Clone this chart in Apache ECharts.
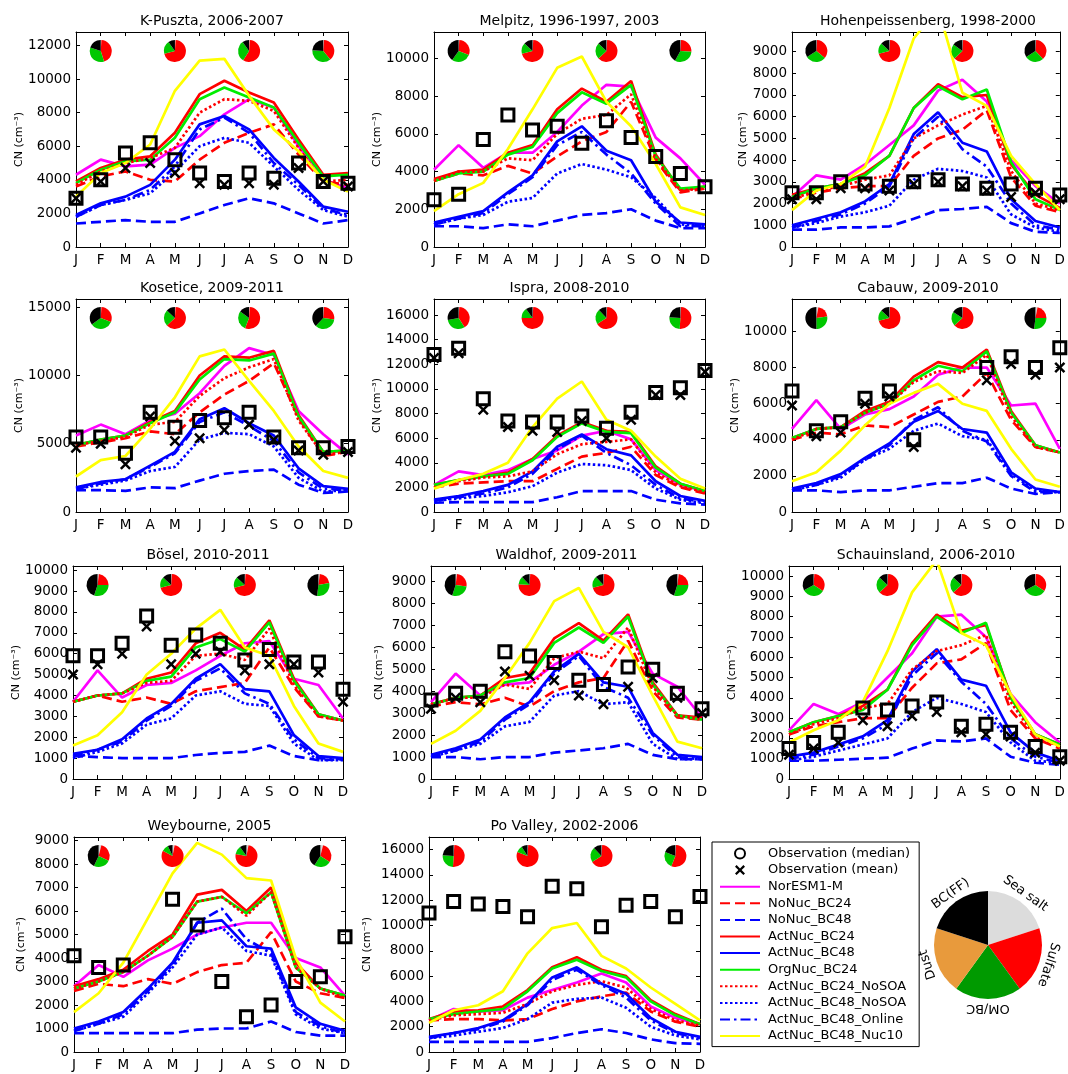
<!DOCTYPE html>
<html>
<head>
<meta charset="utf-8">
<script src="https://cdn.jsdelivr.net/npm/echarts@6/dist/echarts.min.js"></script>
<style>
html, body { margin: 0; padding: 0; background: #fff; }
#chart { width: 1068px; height: 1074px; }
</style>
</head>
<body>
<div id="chart"></div>
<script>
var months = [1, 2, 3, 4, 5, 6, 7, 8, 9, 10, 11, 12];
var monthLabels = ['J', 'F', 'M', 'A', 'M', 'J', 'J', 'A', 'S', 'O', 'N', 'D'];
var sites = ['K-Puszta, 2006-2007', 'Melpitz, 1996-1997, 2003', 'Hohenpeissenberg, 1998-2000',
	'Kosetice, 2009-2011', 'Ispra, 2008-2010', 'Cabauw, 2009-2010',
	'Bösel, 2010-2011', 'Waldhof, 2009-2011', 'Schauinsland, 2006-2010',
	'Weybourne, 2005', 'Po Valley, 2002-2006'];
var yMax = [12800, 11400, 9900, 15600, 17300, 11800, 10200, 9700, 10500, 9150, 17000];
var yStep = [2000, 2000, 1000, 5000, 2000, 2000, 1000, 1000, 1000, 1000, 2000];

// one row per site, Jan..Dec
var norEsm = [
	[4300,5200,4800,4900,5900,6600,7900,8800,8300,6000,4000,3500],
	[4100,5400,4200,5000,5000,6100,7500,8600,8500,5800,4700,3300],
	[2300,3300,3100,3800,4700,5600,7200,7700,6700,4000,2800,2000],
	[5600,6400,5700,6700,7200,8700,10700,12000,11500,7400,5700,4200],
	[2200,3300,3000,3400,4300,5000,6200,6600,5900,3400,2200,1700],
	[4600,6200,4600,5400,5700,6400,7600,8000,8000,5900,6000,3500],
	[3700,5200,3900,4500,4600,5200,5900,6500,6600,4800,4500,2900],
	[3500,4800,3800,4300,4400,5200,5800,6600,6700,4800,4200,2800],
	[2400,3700,3200,3800,5000,6200,8000,8100,7000,4200,2800,1800],
	[2800,3700,3200,3900,4400,5000,5300,5500,5500,4000,3600,2400],
	[2500,3400,3200,3300,4300,4900,5500,6200,5500,3600,2700,2200]
];
var noNucBC24 = [
	[3600,4200,4500,4000,3900,5200,6200,6800,7300,5500,3900,3700],
	[3500,3900,3800,4300,3900,4800,5600,6100,7700,4600,2900,3100],
	[2200,2500,2700,2800,2800,4200,5000,5400,6300,3200,1900,1600],
	[4800,5100,5400,5900,5700,7300,8600,9600,10900,6900,4100,4400],
	[2000,2300,2400,2500,2500,3500,4500,4800,5300,3000,2000,1500],
	[4000,4400,4300,4800,4700,5400,6100,6400,7700,5100,3600,3300],
	[3700,4000,3700,3900,3600,4200,4400,4600,6300,4400,3000,2800],
	[3300,3500,3400,3700,3300,4000,4400,4600,6300,4000,2800,2700],
	[2200,2600,2800,3000,3000,4500,5700,5900,6700,3400,2000,1500],
	[2600,2900,2800,3100,2900,3400,3700,3800,5100,3000,2500,2300],
	[2500,2600,2600,2500,2600,3400,4000,4400,4700,3200,2400,2000]
];
var noNucBC48 = [
	[1400,1500,1600,1500,1500,2000,2500,2900,2600,2000,1400,1600],
	[1100,1100,1000,1200,1100,1400,1700,1800,2000,1400,1000,1000],
	[800,800,900,900,950,1300,1700,1750,1850,1100,700,650],
	[1600,1600,1550,1800,1750,2300,2800,3000,3100,2000,1400,1500],
	[750,800,800,800,800,1200,1700,1700,1700,1000,700,600],
	[1200,1200,1100,1200,1200,1400,1600,1600,1900,1300,1000,1100],
	[1100,1050,1000,1000,1000,1150,1250,1300,1600,1100,900,950],
	[1000,1000,900,1000,1000,1200,1300,1400,1600,1100,900,900],
	[900,900,950,1000,1050,1500,1900,1850,2000,1100,800,700],
	[800,800,800,800,800,950,1000,1000,1300,850,700,700],
	[800,800,800,800,800,1100,1500,1800,1500,1000,700,650]
];
var actNucBC24 = [
	[3900,4700,5200,5400,6800,9100,9900,9200,8600,6400,4300,4400],
	[3600,4000,4100,5000,5400,7300,8400,7700,8800,4900,3000,3200],
	[2400,2700,2900,3400,4200,6400,7500,6900,7000,3800,2400,1800],
	[4900,5300,5600,6600,7400,10000,11400,11300,11800,7100,4400,4500],
	[2200,2600,2900,3200,4300,6200,7300,6600,6500,3700,2300,1700],
	[4100,4600,4700,5600,6100,7500,8300,8000,9000,5600,3700,3300],
	[3700,4000,4100,4800,5100,6500,7000,6200,7600,4800,3100,2800],
	[3400,3700,3800,4600,4800,6400,7100,6300,7500,4400,2900,2800],
	[2300,2800,3100,3600,4400,6700,8100,7300,7600,4100,2200,1700],
	[2800,3100,3500,4300,5000,6700,6900,6000,7000,3800,2700,2400],
	[2600,3200,3300,3600,4900,6700,7500,6500,6000,4100,3000,2200]
];
var actNucBC48 = [
	[1900,2600,3000,3700,5200,7300,7800,7000,5300,3900,2400,2100],
	[1300,1600,1900,2900,3800,5600,6400,5100,4600,2400,1300,1200],
	[1000,1300,1600,2100,2900,5200,6200,4800,4400,2200,1200,900],
	[1800,2200,2400,3400,4400,6800,7600,6500,5600,3200,1900,1700],
	[1000,1300,1700,2200,3300,5300,6300,5100,4600,2500,1300,900],
	[1300,1600,2100,3000,3800,5000,5600,4600,4400,2200,1300,1100],
	[1200,1400,1900,2900,3600,4800,5500,4300,4200,2100,1100,1000],
	[1100,1400,1800,2800,3500,4900,5700,4400,4200,2100,1100,1000],
	[1100,1300,1700,2100,2900,5300,6400,4900,4600,2300,1300,900],
	[1000,1300,1700,2700,3800,5500,5600,4500,4400,1900,1200,900],
	[1200,1500,1900,2500,3800,5900,6700,5400,4600,2700,1600,1200]
];
var orgNucBC24 = [
	[3800,4600,5100,5200,6500,8800,9500,8900,8300,6200,4200,4300],
	[3500,3900,4000,4900,5300,7100,8200,7600,8600,4800,3100,3200],
	[2300,2700,2900,3300,4200,6400,7400,6800,7250,3900,2200,1700],
	[4900,5300,5600,6500,7300,9700,11200,11100,11600,7000,4400,4500],
	[2200,2600,2900,3100,4200,6100,7200,6500,6400,3600,2300,1700],
	[4100,4600,4700,5500,6000,7300,8100,7800,8900,5500,3700,3300],
	[3700,4000,4100,4700,4900,6300,6700,6100,7500,4700,3100,2800],
	[3400,3700,3800,4400,4600,6200,6900,6200,7400,4300,2900,2700],
	[2300,2800,3100,3400,4400,6600,8000,7200,7700,4000,2200,1700],
	[2700,3000,3400,4100,4900,6400,6600,5900,6800,3600,2700,2400],
	[2600,3000,3200,3400,4800,6600,7300,6400,5900,4000,2900,2200]
];
var actNucBC24NoSOA = [
	[3700,4500,5000,5300,5900,8000,8800,8700,8100,5900,3900,4000],
	[3500,4000,4000,4700,4600,6000,6800,7000,8100,4700,3000,3100],
	[2200,2600,2800,3100,3300,5000,5600,6100,6500,3500,2000,1700],
	[4900,5200,5500,6400,6600,8500,9800,10600,11200,6700,4200,4400],
	[2000,2500,2800,2900,3300,4700,5500,5700,5900,3200,2100,1600],
	[4000,4600,4700,5500,6000,7200,7800,7700,8700,5300,3600,3300],
	[3700,4000,4100,4600,4700,5900,6000,5700,7200,4500,3000,2800],
	[3400,3700,3700,4300,4100,5500,5800,5500,6900,4200,2900,2700],
	[2200,2700,3000,3500,3700,5400,6300,6600,7100,3800,2100,1600],
	[2700,3000,3400,4100,4900,6400,6600,5800,6800,3600,2700,2300],
	[2500,2900,3000,3100,3800,4800,5300,5600,5100,3400,2500,2100]
];
var actNucBC48NoSOA = [
	[1800,2500,2800,3200,4500,6000,6500,6200,4800,3400,2200,1800],
	[1200,1500,1700,2400,2600,3900,4400,4100,3700,2600,1200,1100],
	[900,1100,1400,1600,1900,3100,3600,3500,3200,1500,900,700],
	[1700,2000,2300,3000,3300,5300,5800,5700,4800,2500,1500,1600],
	[900,1100,1300,1600,2100,3200,3900,3800,3400,1900,1000,700],
	[1200,1500,1900,2900,3500,4500,4900,4200,4000,2100,1200,1100],
	[1000,1300,1700,2600,2900,4000,4200,3600,3500,1700,900,900],
	[1000,1300,1600,2400,2600,3800,4000,3400,3500,1600,900,900],
	[900,1100,1400,1700,2000,3300,4000,3700,3300,1800,900,800],
	[900,1200,1500,2500,3600,5000,5300,4300,4100,1600,1000,800],
	[1100,1300,1600,1900,2600,3900,4200,4300,3500,2000,1300,1000]
];
var actNucBC48Online = [
	[1800,2500,2800,3400,4800,7000,7700,6800,5000,3700,2300,1900],
	[1200,1500,1800,2800,3700,5400,6100,4900,3900,2300,1100,1100],
	[900,1200,1500,2000,2800,5000,6000,4500,3700,2000,1000,800],
	[1700,2100,2400,3300,4300,6600,7300,6300,5200,2900,1700,1600],
	[900,1200,1500,2000,3100,5100,6200,4800,3800,2200,1100,800],
	[1200,1500,2000,2900,3700,5100,5800,4500,3900,2000,1100,1100],
	[1100,1400,1800,2800,3500,4700,5300,4100,3600,1900,1000,950],
	[1000,1300,1700,2700,3400,4800,5600,4200,3700,2000,1000,900],
	[1000,1200,1600,2000,2700,5100,6200,4800,3700,2000,1100,800],
	[900,1200,1600,2600,3700,5500,6100,4800,4200,1700,1100,800],
	[1100,1500,1800,2400,3700,5700,6500,5300,4300,2500,1500,1100]
];
var actNucBC48Nuc10 = [
	[3000,4400,5000,6100,9300,11100,11200,9000,7000,5700,4000,3300],
	[1900,2800,3400,5200,7300,9500,10100,7700,6400,4400,2100,1700],
	[1700,2600,2900,3700,6400,9600,11000,7100,6500,4200,2900,1700],
	[2600,3800,4100,6100,8400,11400,11900,9600,7400,4800,3000,2500],
	[1900,2600,3100,4000,6900,9200,10600,7500,6600,4500,2700,1900],
	[1700,2200,3400,4800,6000,6600,7100,6000,5600,3500,1800,1400],
	[1600,2100,3200,5000,6000,7200,8100,6300,5900,3500,1700,1300],
	[1600,2200,3100,4600,6200,8100,8700,6700,6000,3800,1700,1400],
	[1800,2400,2900,3800,6300,9200,10800,7200,6600,4200,2200,1600],
	[1700,2500,3800,5700,7600,8900,8400,7400,7300,4000,2100,1300],
	[2300,3300,3700,4800,7800,9800,10200,7600,6600,5100,3800,2500]
];
var obsMedian = [
	[2900,4000,5600,6200,5200,4400,3900,4400,4100,5000,3900,3800],
	[2500,2800,5700,7000,6200,6400,5500,6700,5800,4800,3900,3200],
	[2500,2500,3000,2900,2800,3000,3100,2900,2700,2900,2700,2400],
	[5500,5500,4300,7300,6200,6700,6900,7300,5500,4700,4700,4800],
	[12800,13300,9200,7400,7300,7300,7800,6800,8100,9700,10100,11500],
	[6700,4500,5000,6300,6700,4000,null,null,8000,8600,8000,9100],
	[5900,5900,6500,7800,6400,6900,6500,5700,6200,5600,5600,4300],
	[3600,3900,4000,5800,5600,5300,4500,4300,5100,5000,3900,3200],
	[1500,1800,2300,3500,3400,3600,3800,2600,2700,2300,1600,1100],
	[4100,3600,3700,null,6500,5400,3000,1500,2000,3000,3200,4900],
	[11000,11900,11700,11500,10700,13100,12900,9900,11600,11900,10700,12300]
];
var obsMean = [
	[2900,3900,4700,5000,4400,3800,3700,3800,3700,4700,3900,3600],
	null,
	[2200,2200,2700,2700,2600,2900,3000,2800,2600,2300,2500,2200],
	[4700,5000,3500,7000,5200,5400,6000,6400,5300,4500,4200,4400],
	[12500,12900,8300,6900,6600,6500,7400,6000,7500,9500,9500,11400],
	[5900,4200,4400,6000,6400,3600,null,null,7300,8200,7600,8000],
	[5000,5500,6000,7300,5500,6000,6100,5200,5500,5500,5100,3700],
	[3200,3700,3500,4900,4700,4500,3800,3400,4200,4600,3700,3000],
	[1200,1500,1800,2900,2600,3100,3300,2300,2200,2100,1300,900],
	null,
	null
];

// aerosol composition per site: [Sea salt, Sulfate, OM/BC, Dust, BC(FF)]
var pieMonths = [2, 5, 8, 11];
var pieDJF = [[0.01,0.44,0.35,0,0.20],[0.01,0.30,0.29,0,0.40],[0.01,0.35,0.30,0,0.34],[0.01,0.30,0.34,0,0.35],[0.01,0.40,0.31,0,0.28],[0.03,0.20,0.27,0,0.50],[0.02,0.23,0.30,0,0.45],[0.02,0.25,0.28,0,0.45],[0.01,0.33,0.33,0,0.33],[0.04,0.28,0.25,0,0.43],[0.01,0.50,0.25,0,0.24]];
var pieMAM = [[0.01,0.70,0.19,0,0.10],[0.01,0.70,0.16,0,0.13],[0.01,0.70,0.16,0,0.13],[0.01,0.62,0.24,0,0.13],[0.01,0.74,0.15,0,0.10],[0.01,0.70,0.16,0,0.13],[0.01,0.70,0.16,0,0.13],[0.01,0.75,0.12,0,0.12],[0.01,0.62,0.24,0,0.13],[0.03,0.80,0.10,0,0.07],[0.01,0.80,0.10,0,0.09]];
var pieJJA = [[0.01,0.58,0.31,0,0.10],[0.01,0.62,0.24,0,0.13],[0.01,0.62,0.22,0,0.15],[0.01,0.55,0.29,0,0.15],[0.01,0.65,0.22,0,0.12],[0.01,0.62,0.21,0,0.16],[0.01,0.70,0.16,0,0.13],[0.01,0.70,0.17,0,0.12],[0.01,0.62,0.24,0,0.13],[0.03,0.75,0.12,0,0.10],[0.01,0.65,0.22,0,0.12]];
var pieSON = [[0.01,0.38,0.37,0,0.24],[0.01,0.25,0.32,0,0.42],[0.01,0.37,0.28,0,0.34],[0.01,0.26,0.35,0,0.38],[0.01,0.50,0.25,0,0.24],[0.03,0.22,0.27,0,0.48],[0.02,0.20,0.30,0,0.48],[0.02,0.23,0.30,0,0.45],[0.01,0.33,0.33,0,0.33],[0.04,0.30,0.25,0,0.41],[0.01,0.55,0.25,0,0.19]];
var compNames = ['Sea salt', 'Sulfate', 'OM/BC', 'Dust', 'BC(FF)'];
var compShare = [1, 1, 1, 1, 1];

var FONT = 'DejaVu Sans';
var crossPath = 'path://M0,1.6L1.6,0L5,3.4L8.4,0L10,1.6L6.6,5L10,8.4L8.4,10L5,6.6L1.6,10L0,8.4L3.4,5Z';

var models = [
	{ name: 'NorESM1-M', rows: norEsm, color: '#ff00ff', dash: 'solid' },
	{ name: 'NoNuc_BC24', rows: noNucBC24, color: '#ff0000', dash: [10, 5] },
	{ name: 'NoNuc_BC48', rows: noNucBC48, color: '#0000ff', dash: [10, 5] },
	{ name: 'ActNuc_BC24', rows: actNucBC24, color: '#ff0000', dash: 'solid' },
	{ name: 'ActNuc_BC48', rows: actNucBC48, color: '#0000ff', dash: 'solid' },
	{ name: 'OrgNuc_BC24', rows: orgNucBC24, color: '#00ee00', dash: 'solid' },
	{ name: 'ActNuc_BC24_NoSOA', rows: actNucBC24NoSOA, color: '#ff0000', dash: [2.5, 2.5] },
	{ name: 'ActNuc_BC48_NoSOA', rows: actNucBC48NoSOA, color: '#0000ff', dash: [2.5, 2.5] },
	{ name: 'ActNuc_BC48_Online', rows: actNucBC48Online, color: '#0000ff', dash: [10, 4, 2.5, 4] },
	{ name: 'ActNuc_BC48_Nuc10', rows: actNucBC48Nuc10, color: '#ffff00', dash: 'solid' }
];

// layout: [left, top, width, height] and y-name gaps
var gridBoxes = [
	[76, 32, 272, 215], [434, 32, 271, 215], [792, 32, 272, 215],
	[76, 299, 272, 213], [434, 299, 271, 213], [792, 299, 272, 213],
	[73, 566, 270, 213], [431, 566, 271, 213], [789, 566, 274, 213],
	[74, 837, 271, 215], [429, 837, 271, 215]
];
var nameGaps = [49, 47, 43, 48, 44, 43, 47, 46, 42, 47, 56];

var smallColors = ['#d4d4d4', '#ff0000', '#00c800', '#e89a3c', '#000000'];
var bigColors = ['#dcdcdc', '#ff0000', '#009a00', '#e89a3c', '#000000'];

function toPoints(row) {
	var pts = [];
	for (var i = 0; i < months.length; i++) {
		if (row[i] != null) pts.push([months[i], row[i]]);
	}
	return pts;
}

var chart = echarts.init(document.getElementById('chart'));

var option = {
	backgroundColor: '#fff',
	animation: false,
	textStyle: { fontFamily: FONT },
	title: [],
	grid: [],
	xAxis: [],
	yAxis: [],
	legend: {
		orient: 'vertical',
		left: 712,
		top: 842,
		padding: [5, 9, 4, 7],
		borderColor: '#000',
		borderWidth: 1,
		itemWidth: 40,
		itemHeight: 10,
		itemGap: 3.6,
		selectedMode: false,
		textStyle: { fontSize: 13, color: '#000', fontFamily: FONT, padding: [0, 0, 0, 3] },
		data: []
	},
	series: []
};

option.legend.data.push({ name: 'Observation (median)', icon: 'circle',
	itemStyle: { color: 'rgba(0,0,0,0)', borderColor: '#000', borderWidth: 2, opacity: 1 } });
option.legend.data.push({ name: 'Observation (mean)', icon: crossPath, itemStyle: { color: '#000', opacity: 1 } });
models.forEach(function(m) {
	option.legend.data.push({ name: m.name, icon: 'inherit', itemStyle: { opacity: 0 } });
});

var axisLine = { show: true, onZero: false, lineStyle: { color: '#000', width: 1 } };
var axisTick = { show: true, inside: true, length: 4, lineStyle: { color: '#000' } };

sites.forEach(function(site, g) {
	var b = gridBoxes[g];
	var step = yStep[g];
	option.grid.push({ left: b[0], top: b[1], width: b[2], height: b[3] });
	option.title.push({
		text: site, left: b[0] + b[2] / 2, top: b[1] - 18, textAlign: 'center', padding: 0,
		textStyle: { fontSize: 14, fontWeight: 'normal', color: '#000', fontFamily: FONT }
	});
	option.xAxis.push({
		gridIndex: g, type: 'value', min: 1, max: 12, interval: 1, position: 'bottom',
		axisLine: axisLine, axisTick: axisTick, splitLine: { show: false },
		axisLabel: { color: '#000', fontSize: 13.5, margin: 6, fontFamily: FONT,
			formatter: function(v) { return monthLabels[v - 1] || ''; } }
	});
	option.xAxis.push({
		gridIndex: g, type: 'value', min: 1, max: 12, interval: 1, position: 'top',
		axisLine: axisLine, axisTick: axisTick, splitLine: { show: false }, axisLabel: { show: false }
	});
	option.yAxis.push({
		gridIndex: g, type: 'value', min: 0, max: yMax[g], interval: step, position: 'left',
		name: 'CN (cm\u207B\u00B3)', nameLocation: 'middle', nameGap: nameGaps[g],
		nameTextStyle: { fontSize: 11, color: '#000', fontFamily: FONT },
		axisLine: axisLine, axisTick: axisTick, splitLine: { show: false },
		axisLabel: { color: '#000', fontSize: 13.5, margin: 5, fontFamily: FONT,
			formatter: function(v) { return v % step === 0 ? String(v) : ''; } }
	});
	option.yAxis.push({
		gridIndex: g, type: 'value', min: 0, max: yMax[g], interval: step, position: 'right',
		axisLine: axisLine, axisTick: axisTick, splitLine: { show: false }, axisLabel: { show: false }
	});

	models.forEach(function(m) {
		option.series.push({
			type: 'line', name: m.name, xAxisIndex: 2 * g, yAxisIndex: 2 * g,
			data: toPoints(m.rows[g]), symbol: 'none', showSymbol: false, silent: true,
			lineStyle: { color: m.color, width: 2.7, type: m.dash },
			itemStyle: { color: m.color }
		});
	});
	option.series.push({
		type: 'scatter', name: 'Observation (median)', xAxisIndex: 2 * g, yAxisIndex: 2 * g,
		data: toPoints(obsMedian[g]), symbol: 'rect', symbolSize: 12, silent: true, z: 4,
		itemStyle: { color: 'rgba(0,0,0,0)', borderColor: '#000', borderWidth: 3, opacity: 1 }
	});
	if (obsMean[g]) {
		option.series.push({
			type: 'scatter', name: 'Observation (mean)', xAxisIndex: 2 * g, yAxisIndex: 2 * g,
			data: toPoints(obsMean[g]), symbol: crossPath, symbolSize: 11, silent: true, z: 4,
			itemStyle: { color: '#000', opacity: 1 }
		});
	}
});

// large composition key
option.series.push({
	type: 'pie', center: [988, 945], radius: 54, startAngle: 90, clockwise: true, silent: true,
	label: { show: false }, labelLine: { show: false },
	data: compNames.map(function(n, i) {
		return { name: n, value: compShare[i], itemStyle: { color: bigColors[i] } };
	})
});
var keyRotate = [-36, -108, 180, 108, 36];
option.series.push({
	type: 'pie', center: [988, 945], radius: [54, 67], startAngle: 90, clockwise: true, silent: true,
	itemStyle: { color: 'rgba(0,0,0,0)' }, labelLine: { show: false },
	data: compNames.map(function(n, i) {
		return { name: n, value: compShare[i],
			label: { show: true, position: 'inside', rotate: keyRotate[i], color: '#000',
				fontSize: 13, fontFamily: FONT, formatter: '{b}' } };
	})
});

chart.setOption(option);

// small seasonal composition pies placed through the axes
var seasonPies = [pieDJF, pieMAM, pieJJA, pieSON];
sites.forEach(function(site, g) {
	var yTop = chart.convertToPixel({ yAxisIndex: 2 * g }, yMax[g]);
	pieMonths.forEach(function(m, s) {
		var x = chart.convertToPixel({ xAxisIndex: 2 * g }, m);
		var frac = seasonPies[s][g];
		option.series.push({
			type: 'pie', center: [x, yTop + 19], radius: 11, startAngle: 90, clockwise: true,
			silent: true, z: 6, label: { show: false }, labelLine: { show: false },
			data: frac.map(function(v, i) {
				return { name: compNames[i], value: v, itemStyle: { color: smallColors[i] } };
			})
		});
	});
});

chart.setOption(option);
</script>
</body>
</html>
